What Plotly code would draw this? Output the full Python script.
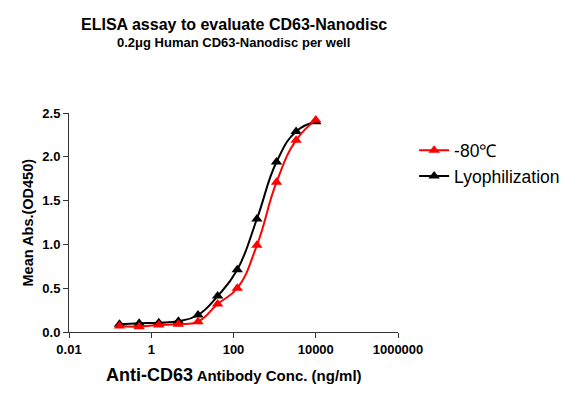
import plotly.graph_objects as go

conc = [10000, 3333.3, 1111.1, 370.37, 123.46, 41.15, 13.72, 4.572, 1.524, 0.508, 0.169]
lyo = [2.40, 2.29, 1.94, 1.29, 0.71, 0.41, 0.194, 0.122, 0.106, 0.099, 0.088]
m80 = [2.42, 2.19, 1.71, 0.99, 0.50, 0.32, 0.118, 0.088, 0.080, 0.060, 0.068]
xticks = [0.01, 1, 100, 10000, 1000000]
xticklabels = ["0.01", "1", "100", "10000", "1000000"]
yticks = [0.0, 0.5, 1.0, 1.5, 2.0, 2.5]

FONT = "Liberation Sans, Arial, sans-serif"

# page offset (body margin) is 8px
L, T, B = 61, 105, 76
PW, PH = 329, 219
BOT = T + PH  # figure px of plot bottom

fig = go.Figure()
fig.add_trace(go.Scatter(
    x=conc, y=lyo, name="Lyophilization", mode="lines+markers",
    line=dict(color="black", width=2, shape="spline", smoothing=1.3),
    marker=dict(symbol="triangle-up", size=10, color="black"),
    cliponaxis=False))
fig.add_trace(go.Scatter(
    x=conc, y=m80, name="-80\u2103", mode="lines+markers",
    line=dict(color="#ff0000", width=2, shape="spline", smoothing=1.3),
    marker=dict(symbol="triangle-up", size=10, color="#ff0000"),
    cliponaxis=False))

fig.update_layout(
    width=583, height=400,
    margin=dict(l=L, r=583 - L - PW, t=T, b=B),
    plot_bgcolor="white", paper_bgcolor="white",
    font=dict(family=FONT, color="black"),
    showlegend=True,
    legend=dict(x=1.049, y=0.912, xanchor="left", yanchor="top",
                traceorder="reversed", font=dict(size=17.5, family=FONT),
                bgcolor="rgba(0,0,0,0)", tracegroupgap=0),
    xaxis=dict(type="log", range=[-2, 6], tickvals=xticks, ticktext=xticklabels,
               showgrid=False, zeroline=False, showline=True, linecolor="#333",
               linewidth=1, ticks="outside", ticklen=5, tickcolor="#333",
               tickfont=dict(size=13, family=FONT, weight="bold")),
    yaxis=dict(range=[0, 2.5], tickvals=yticks, tickformat=".1f",
               showgrid=False, zeroline=False, showline=True, linecolor="#333",
               linewidth=1, ticks="outside", ticklen=5, tickcolor="#333",
               tickfont=dict(size=13, family=FONT, weight="bold")),
    annotations=[
        dict(text="<b>ELISA assay to evaluate CD63-Nanodisc</b>", xref="paper", yref="paper",
             x=0.5, y=(BOT - 16) / PH, xanchor="center", yanchor="middle",
             showarrow=False, font=dict(size=16, family=FONT)),
        dict(text="<b>0.2\u03bcg Human CD63-Nanodisc per well</b>", xref="paper", yref="paper",
             x=0.5, y=(BOT - 35) / PH, xanchor="center", yanchor="middle",
             showarrow=False, font=dict(size=13, family=FONT)),
        dict(text="<b><span style='font-size:18px'>Anti-CD63</span> Antibody Conc. (ng/ml)</b>",
             xref="paper", yref="paper", x=0.5, y=-(367 - BOT) / PH,
             xanchor="center", yanchor="middle", showarrow=False,
             font=dict(size=15, family=FONT)),
        dict(text="<b>Mean Abs.(OD450)</b>", xref="paper", yref="paper",
             x=-(L - 19) / PW, y=0.5, xanchor="center", yanchor="middle",
             textangle=-90, showarrow=False, font=dict(size=14.5, family=FONT)),
    ],
)

fig.write_html("out.html")
